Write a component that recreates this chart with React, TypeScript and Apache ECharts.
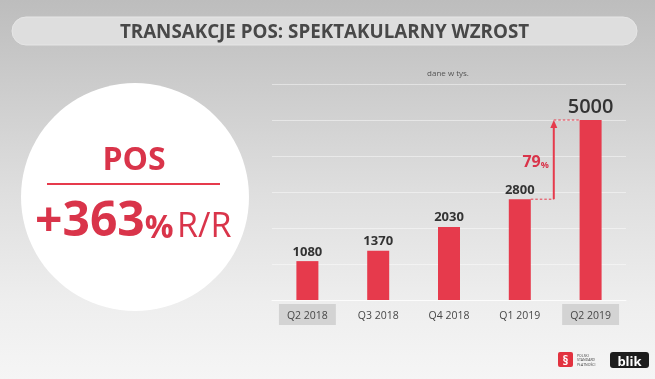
import React, { useEffect, useRef } from 'react';
import * as echarts from 'echarts';

const categories = ['Q2 2018', 'Q3 2018', 'Q4 2018', 'Q1 2019', 'Q2 2019'];
const values = [1080, 1370, 2030, 2800, 5000];
const highlightedCategories = ['Q2 2018', 'Q2 2019'];
const yMin = 0;
const yMax = 6000;
const yInterval = 1000;
const growthValue = '79';
const titleText = 'TRANSAKCJE POS: SPEKTAKULARNY WZROST';
const unitNote = 'dane w tys.';
const kpiTitle = 'POS';
const kpiValue = '+363';
const kpiUnit = 'R/R';

const RED = '#e63a4c';
const TEXT_RED = '#d9344a';
const FONT = '"Open Sans", "Noto Sans", sans-serif';

export default function App() {
  const ref = useRef<HTMLDivElement>(null);

  useEffect(() => {
    if (!ref.current) return;
    const chart = echarts.init(ref.current, undefined, { renderer: 'svg' });
    const last = values.length - 1;

    const baseGraphics: any[] = [
      {
        type: 'rect',
        z: -10,
        silent: true,
        shape: { x: 0, y: 0, width: 655, height: 379 },
        style: {
          fill: new echarts.graphic.LinearGradient(0, 0, 0, 1, [
            { offset: 0, color: '#bdbdbd' },
            { offset: 0.18, color: '#c9c9c9' },
            { offset: 0.5, color: '#dedede' },
            { offset: 0.8, color: '#eeeeee' },
            { offset: 1, color: '#f5f5f5' },
          ]),
        },
      },
      {
        type: 'rect',
        z: -5,
        shape: { x: 12, y: 17, width: 625, height: 28, r: 14 },
        style: { fill: '#dedede', stroke: '#e6e6e6', lineWidth: 1 },
      },
      {
        type: 'text',
        z: 5,
        style: {
          text: titleText,
          x: 324.5,
          y: 31,
          align: 'center',
          verticalAlign: 'middle',
          fill: '#484848',
          font: `bold 18.8px ${FONT}`,
        },
      },
      {
        type: 'text',
        z: 5,
        style: {
          text: unitNote,
          x: 448,
          y: 72,
          align: 'center',
          verticalAlign: 'middle',
          fill: '#555',
          font: `8px ${FONT}`,
        },
      },
      {
        type: 'circle',
        z: -4,
        shape: { cx: 135, cy: 197, r: 114 },
        style: { fill: '#ffffff' },
      },
      {
        type: 'text',
        z: 5,
        style: {
          text: kpiTitle,
          x: 134,
          y: 157,
          align: 'center',
          verticalAlign: 'middle',
          fill: TEXT_RED,
          font: `bold 32px ${FONT}`,
        },
      },
      {
        type: 'rect',
        z: 5,
        shape: { x: 47, y: 183, width: 173, height: 2 },
        style: { fill: RED },
      },
      {
        type: 'text',
        z: 5,
        style: {
          text: `{a|${kpiValue}}{b|%} {c|${kpiUnit}}`,
          x: 35,
          y: 216,
          align: 'left',
          verticalAlign: 'middle',
          rich: {
            a: { fontFamily: FONT, fontWeight: 'bold', fontSize: 48, fill: TEXT_RED, verticalAlign: 'bottom', lineHeight: 50 },
            b: { fontFamily: FONT, fontWeight: 'bold', fontSize: 32, fill: TEXT_RED, verticalAlign: 'bottom', lineHeight: 42 },
            c: { fontFamily: FONT, fontWeight: 'normal', fontSize: 34, fill: TEXT_RED, verticalAlign: 'bottom', lineHeight: 43 },
          },
        },
      },
      // logos
      {
        type: 'rect',
        z: 5,
        shape: { x: 558, y: 352, width: 15, height: 15, r: 2 },
        style: { fill: '#e2323f' },
      },
      {
        type: 'text',
        z: 6,
        style: {
          text: '§',
          x: 565.5,
          y: 360,
          align: 'center',
          verticalAlign: 'middle',
          fill: '#fff',
          font: `bold 12px ${FONT}`,
        },
      },
      {
        type: 'text',
        z: 5,
        style: {
          text: 'POLSKI\nSTANDARD\nPŁATNOŚCI',
          x: 577,
          y: 359.5,
          align: 'left',
          verticalAlign: 'middle',
          fill: '#444',
          font: `3.5px ${FONT}`,
          lineHeight: 4.5,
        },
      },
      {
        type: 'rect',
        z: 5,
        shape: { x: 610, y: 352, width: 39, height: 16, r: 3 },
        style: { fill: '#1d1d1d' },
      },
      {
        type: 'text',
        z: 6,
        style: {
          text: 'blik',
          x: 629.5,
          y: 360.5,
          align: 'center',
          verticalAlign: 'middle',
          fill: '#fff',
          font: `bold 13px ${FONT}`,
        },
      },
    ];

    const option: any = {
      animation: false,
      grid: { left: 272, right: 29, top: 84, bottom: 79, containLabel: false },
      xAxis: {
        type: 'category',
        data: categories.map((c) =>
          highlightedCategories.includes(c)
            ? { value: c, textStyle: { backgroundColor: '#d3d3d3' } }
            : { value: c }
        ),
        axisTick: { show: false },
        axisLine: { show: true, lineStyle: { color: 'rgba(255,255,255,0.7)', width: 1 } },
        axisLabel: {
          color: '#474747',
          fontFamily: FONT,
          fontSize: 10.5,
          lineHeight: 11,
          padding: [5, 8, 5, 8],
          margin: 4,
        },
      },
      yAxis: {
        type: 'value',
        min: yMin,
        max: yMax,
        interval: yInterval,
        axisLabel: { show: false },
        axisLine: { show: false },
        axisTick: { show: false },
        splitLine: { show: true, lineStyle: { color: 'rgba(255,255,255,0.45)', width: 1 } },
      },
      series: [
        {
          type: 'bar',
          barWidth: 22,
          itemStyle: { color: RED },
          label: {
            show: true,
            position: 'top',
            distance: 4,
            color: '#333',
            fontFamily: FONT,
            fontWeight: 'bold',
            fontSize: 13,
          },
          data: values.map((v, i) =>
            i === last ? { value: v, label: { fontSize: 20, distance: 5, fontWeight: 600 } } : v
          ),
        },
      ],
      graphic: { elements: baseGraphics },
    };

    chart.setOption(option);

    // growth arrow between the last two bars, positioned through the chart's scales
    const pFrom = chart.convertToPixel({ seriesIndex: 0 }, [last - 1, values[last - 1]]) as number[];
    const pTo = chart.convertToPixel({ seriesIndex: 0 }, [last, values[last]]) as number[];
    const band = pTo[0] - pFrom[0];
    const half = 11;
    const ax = pFrom[0] + band * 0.48;
    const y1 = pFrom[1];
    const y2 = pTo[1];

    const arrowGraphics: any[] = [
      {
        type: 'line',
        z: 10,
        shape: { x1: pFrom[0] + half, y1: y1, x2: ax, y2: y1 },
        style: { stroke: RED, lineWidth: 1, lineDash: [2.5, 2] },
      },
      {
        type: 'line',
        z: 10,
        shape: { x1: ax, y1: y2, x2: pTo[0] - half, y2: y2 },
        style: { stroke: RED, lineWidth: 1, lineDash: [2.5, 2] },
      },
      {
        type: 'line',
        z: 10,
        shape: { x1: ax, y1: y1, x2: ax, y2: y2 + 6 },
        style: { stroke: RED, lineWidth: 2 },
      },
      {
        type: 'polygon',
        z: 10,
        shape: { points: [[ax - 3.5, y2 + 8], [ax + 3.5, y2 + 8], [ax, y2]] },
        style: { fill: RED },
      },
      {
        type: 'text',
        z: 10,
        style: {
          text: `{n|${growthValue}}{p|%}`,
          x: ax - 5,
          y: (y1 + y2) / 2,
          align: 'right',
          verticalAlign: 'middle',
          rich: {
            n: { fontFamily: FONT, fontWeight: 'bold', fontSize: 16, fill: TEXT_RED, verticalAlign: 'bottom', lineHeight: 18 },
            p: { fontFamily: FONT, fontWeight: 'bold', fontSize: 9, fill: TEXT_RED, verticalAlign: 'bottom', lineHeight: 14 },
          },
        },
      },
    ];

    chart.setOption({ graphic: { elements: [...baseGraphics, ...arrowGraphics] } });

    return () => chart.dispose();
  }, []);

  return (
    <div
      ref={ref}
      style={{ position: 'fixed', left: 0, top: 0, width: 655, height: 379 }}
    />
  );
}
